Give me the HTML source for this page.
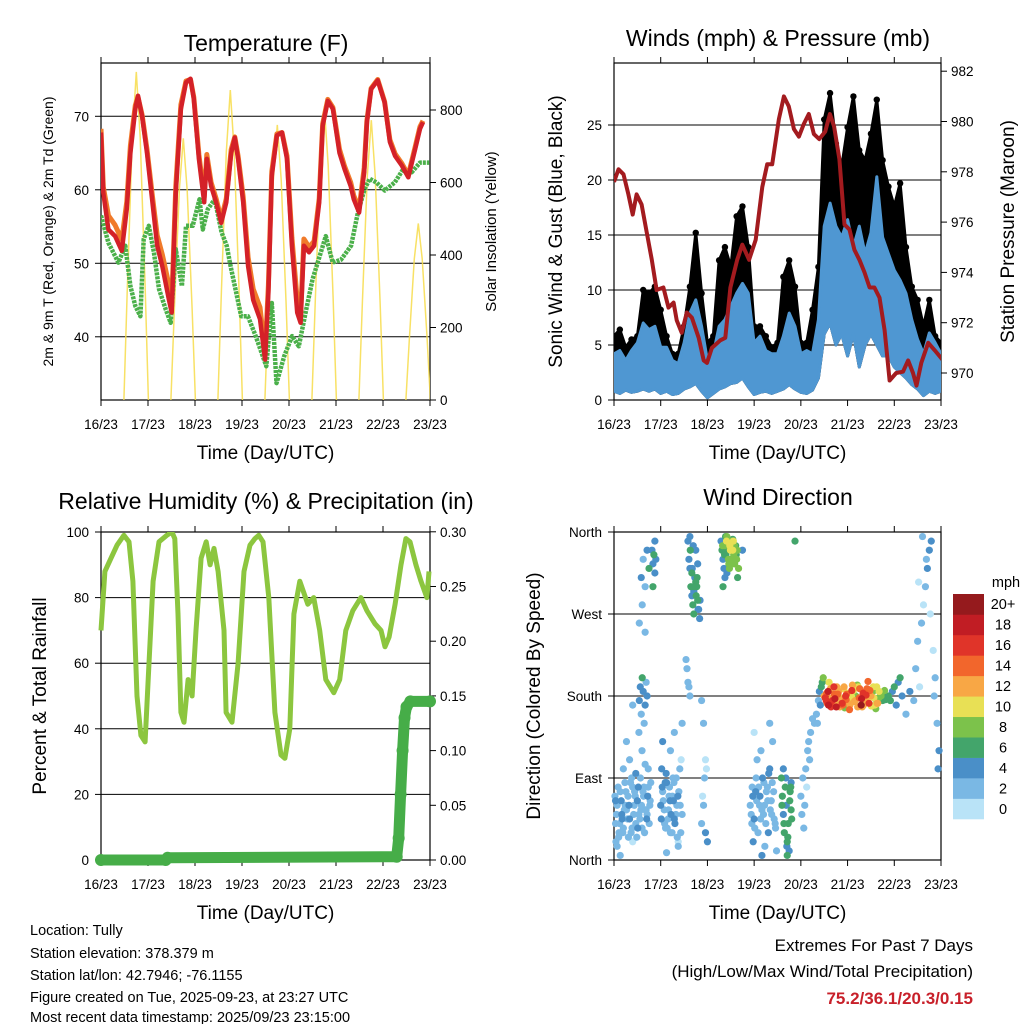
<!DOCTYPE html>
<html><head><meta charset="utf-8"><style>
html,body{margin:0;padding:0;background:#fff;}
svg{display:block;font-family:"Liberation Sans",sans-serif;}
</style></head><body>
<svg id="root" width="1024" height="1024" viewBox="0 0 1024 1024" xmlns="http://www.w3.org/2000/svg">
<rect width="1024" height="1024" fill="#fff"/>
<g id="p1"></g>
<g id="p2"></g>
<g id="p3"></g>
<g id="p4"></g>
<g font-size="14.5" fill="#000">
<text x="30" y="935">Location: Tully</text>
<text x="30" y="958">Station elevation: 378.379 m</text>
<text x="30" y="980">Station lat/lon: 42.7946; -76.1155</text>
<text x="30" y="1002">Figure created on Tue, 2025-09-23, at 23:27 UTC</text>
<text x="30" y="1024" dy="-2">Most recent data timestamp: 2025/09/23 23:15:00</text>
</g>
<g text-anchor="end">
<text x="973" y="951" font-size="17">Extremes For Past 7 Days</text>
<text x="973" y="977" font-size="17">(High/Low/Max Wind/Total Precipitation)</text>
<text x="973" y="1004" font-size="17" font-weight="bold" fill="#c8202a">75.2/36.1/20.3/0.15</text>
</g>
</svg>
<script>
// ---------------- DATA ----------------
const dayLabels=["16/23","17/23","18/23","19/23","20/23","21/23","22/23","23/23"];
const tempT=[0,1.2,3.8,7.2,10.6,13.2,15,17.5,18.9,21,23.5,26.1,28.7,31.3,34.7,36.1,38.2,40.8,43.4,45.7,47.4,50,52.7,54,56.2,58.8,61.4,64,66.5,68.3,70,72.6,75.1,77.7,81.2,83.8,85.5,87.2,89.8,92.4,95,97.5,100.2,101.9,103.6,106.2,108.8,111.4,113.2,115.8,118.4,121.8,124.4,127.5,129.1,131.8,134.4,135.8,137.9,141.3,144.8,147.5,150.2,153.6,156.9,160.4,162.9,164.4];
const tempRed=[67.8,59.6,54.6,53.7,51.7,57.4,65,71,72.8,70,65,58.7,52.4,49.6,45,43.3,59.6,71,74.6,75.1,72.4,64.2,58.3,64.2,60.5,58.3,55.5,58.3,65,67.1,64.2,58.3,49.6,45,42.4,36.9,46,61.9,67.4,67.8,64.2,52.4,43.3,41.9,52.4,51.5,52.4,58.3,68.7,72.1,71,65,62.8,60.5,58.7,56.9,62.4,69.2,73.7,74.9,71.9,66.5,64.6,63.3,61.7,65.5,68.3,69.2];
const tempOrange=[68.3,60.4,56.5,55.2,53.2,58.4,66,71.5,72.6,70.2,65.5,59.5,53.8,51.2,47,44.5,60.5,71.6,74.8,75,72.6,64.8,59,64.8,61,58.8,56,58.8,65.5,67.2,64.6,59,50.8,46.5,44,37.8,47,62.5,67.6,67.8,64.6,53.5,45,43,53.3,52.2,53,58.8,69,72.3,71.2,65.5,63.2,61,59.2,57.4,63,69.4,73.8,75,72,66.8,64.9,63.6,62,65.8,68.6,69.4];
const tdT=[0,3.8,8.9,12.4,15,17.5,20.1,21.8,24.4,27,29.6,33.1,35.6,38.2,41.3,43.4,46.8,50.3,52,54.6,58.1,61.6,64.2,66.2,71.6,75,79,84.4,87.2,89.6,93.6,97.6,101,104.5,108,114.8,118.3,122.6,127.7,131.2,134.6,137.2,140.6,144.9,150,154.3,158.7,162.9,167.6];
const tdVal=[56.5,52.8,50.1,52.4,46.9,44.2,42.8,53.3,55.1,51.5,46.5,43.7,41.9,51.9,46.9,55.1,55.1,58.7,54.6,57.4,58.7,54.2,52.4,49.6,42.8,42.8,40.1,36,44.6,33.7,37.4,40.1,38.7,43.3,47.8,53.7,50.1,50.5,52.4,56.9,60.1,61.5,61,59.9,61,62.8,62.4,63.7,63.7];
const solarDayStart=[0,24,48,72,96,120,144];
const solarPeak=[905,722,855,759,809,772,487];
const windT=[0,3,6,9,12,15,18,21,24,27,30,33,36,39,42,45,48,51,54,57,60,63,66,69,72,75,78,81,84,87,90,93,96,99,102,105,108,111,114,117,120,123,126,129,132,135,138,141,144,147,150,153,156,159,162,165,168];
const windLow=[0.8,0.6,0.9,0.7,0.8,1,0.8,1,0.6,0.8,0.5,0.6,1,1.2,1.5,0.8,0.2,0.6,1,1.2,1.5,1.6,2,1.2,0.5,0.7,0.8,0.6,0.8,1,1.4,1,0.7,0.6,0.9,2,6,7,5,6,4,6,3,5,6,5,4,4,3,2.5,2,1.4,1,0.4,0.8,0.6,0.8];
const windHigh=[4.2,4.5,3.6,4.5,5.2,7,6.4,6.7,4.8,4.8,3.6,3.3,5.2,7.9,9.1,6.7,3.6,4.2,6.7,7.3,8.5,9.7,10.6,9.7,5.2,5.8,4.5,4.2,4.2,5.8,7.9,6.7,4.2,4.5,4.2,7.3,15.8,17.9,15.8,14.8,16.4,13.9,15.8,13.3,15.2,20.3,14.8,13.3,11.8,10.9,9.7,7.3,5.5,4.2,6.1,5.2,4.2];
const gustHigh=[5.8,6.4,4.8,5.5,5.8,10,9.7,10.3,8.2,5.8,4.2,4.2,6.7,10.3,15.2,9.7,5.2,5.8,12.7,13.9,12.1,16.7,17.6,13.9,6.7,6.7,5.8,4.8,5.2,11.2,12.7,10.3,5.2,5.2,8.2,12.1,25.5,27.9,23.3,21.2,24.8,27.6,22.7,21.8,24.2,27.3,21.8,19.4,17.6,19.7,13.9,10.3,9.1,6.7,9.1,5.8,5.2];
const presT=[0,2.3,4.9,7.4,9.6,11.6,14.2,16.8,19.4,21.9,25.4,28,30.6,32.2,34.8,37.4,40,43.5,46.1,47.8,50.3,54.6,57.2,59.8,63.3,65.9,69.4,72.8,76.2,78.7,81.3,84.7,87.3,89.8,92.4,95,97.5,100.1,102.7,105.4,108.5,110.9,113.1,115.8,118.4,121,123.5,126.1,128.7,131.3,133.8,136.4,139,141.6,145,148.5,151.1,153.6,155.4,157.9,161.4,164.8,169.1];
const presVal=[977.6,978.1,977.9,977.1,976.3,977.1,976.7,975.6,974.5,973.3,973.4,972.6,972.8,972.1,971.6,972.4,972.2,971.4,970.5,970.4,971,971.3,971.4,973.4,974.5,975.1,974.5,975.3,977.4,978.3,978.3,980.1,981,980.6,979.7,979.4,979.9,980.3,979.5,979.3,979.6,980.3,979.8,978.5,975.9,975.7,974.9,974.5,974,973.4,973.4,973,971.7,969.7,970,970.05,970.5,970,969.5,970.4,971.2,970.9,970.5];
const rhT=[0,2,5.1,8.2,11.7,14.3,16.3,18.4,20.4,22.5,24.5,26.6,29.6,33.6,36.2,37.7,39.3,40.8,42.4,44.5,46.5,48.5,51.1,53.7,55.7,57.7,59.8,62.8,63.9,66.9,70,73,76.1,78.6,80.6,82.7,85.7,88.8,91.9,93.9,96.4,98.5,101.5,105.6,108.6,111.7,114.8,118.9,121.9,125,128.6,132.7,135.8,139.9,143,145,147.1,150.2,153.2,155.7,157.8,160.8,163.4,166.4,167.5];
const rhVal=[70,88,92,96,99,97,85,50,38,36,60,85,97,99,100,98,75,45,42,55,50,70,92,97,90,95,88,70,45,42,60,88,96,98,99,97,80,45,32,31,40,75,85,78,80,70,55,51,55,70,76,80,76,72,70,65,68,78,90,98,97,90,85,80,88];
const precipT=[0,33,34,151,152,153,154,155,156,158,168];
const precipVal=[0,0,0.002,0.003,0.02,0.06,0.1,0.13,0.14,0.145,0.145];
const dirTimes=[0.8,1.6,2.4,3.2,4,4.8,5.6,6.4,7.2,8,8.8,9.6,10.4,11.2,12,12.8,13.6,14.4,15.2,16,16.8,17.6,18.4,1.6,4.8,8,11.2,14.4,3.2,6.4,9.6,12.8,16,0.8,9.6,17.6,
13,13.5,14,14.5,15,15.5,16,16.5,17,14,15,16,17,18,13,14.5,16,
24,25,26,27,28,29,30,31,32,33,34,35,24.5,26.5,28.5,30.5,32.5,34.5,27,29,31,33,25,35,
19.5,20,20.5,21,21.5,20,21,
38,38.5,39,39.5,40,40.5,41,41.5,42,42.5,43,43.5,44,39,40,41,42,43,
37,37.5,38,38.5,39,45,45.5,46,46.5,47,47.5,45,46,47,48,
55,55.5,56,56.5,57,57.5,58,58.5,59,59.5,60,60.5,61,61.5,62,62.5,63,63.5,56,58,60,62,64,66,57,61,
70,71,72,73,74,75,76,77,78,79,80,81,82,83,71.5,73.5,75.5,77.5,79.5,81.5,83.5,72,76,80,
86,86.5,87,87.5,88,88.5,89,89.5,90,90.5,91,87,89,91,93,
96,96.5,97,97.5,98,98.5,99,99.5,100,100.5,101,102,103,
104,104.5,105,105.5,106,106.5,107,107.5,
108,109,110,111,112,113,114,115,116,117,118,119,120,121,122,123,124,125,126,127,128,129,130,131,132,133,134,135,136,137,138,139,140,109.5,111.5,113.5,115.5,117.5,119.5,121.5,123.5,125.5,127.5,129.5,131.5,133.5,135.5,137.5,139.5,110.5,114.5,118.5,122.5,126.5,130.5,134.5,
141,142,143,144,145,146,147,148,150,152,154,155,156,157,158,159,160,161,162,163,164,165,166,167,160.5,162.5,164.5,166.5,158.5,156.5];
const dirDegrees=[40,60,25,75,50,35,85,55,70,45,30,80,60,40,65,50,90,35,70,55,45,80,60,15,100,110,95,120,5,130,20,140,105,65,170,100,
175,190,160,200,185,150,170,195,180,310,330,300,340,320,260,280,250,
60,75,40,85,55,30,70,45,90,20,60,50,100,35,80,65,25,110,8,120,140,15,130,150,
340,325,335,315,330,300,350,
350,330,320,300,290,280,270,310,340,300,285,275,265,355,315,295,305,325,
220,210,195,190,180,40,70,60,90,30,100,175,150,110,20,
350,340,330,320,345,335,355,340,325,345,330,350,340,335,325,345,330,310,300,315,345,335,320,340,310,352,
60,80,45,90,30,70,55,85,40,65,100,50,75,35,20,110,120,15,95,130,10,140,5,150,
90,70,50,30,80,60,20,40,10,75,55,100,5,85,350,
70,50,90,35,60,100,80,120,130,110,140,155,150,
160,150,175,185,170,190,195,200,
180,175,185,170,178,190,172,182,168,176,188,180,173,165,180,186,175,192,178,170,183,176,188,172,180,185,170,190,178,183,175,186,180,172,168,177,185,170,182,176,174,190,168,181,186,178,172,184,176,195,190,167,192,169,196,166,
180,175,185,190,170,195,200,180,160,185,175,210,240,190,260,280,300,320,340,350,230,200,150,120,330,270,180,100,355,305];
const dirSpeeds=[2,2,3,2,4,2,3,2,2,4,2,3,2,2,4,3,2,2,3,2,4,2,2,3,2,2,4,2,3,2,1,2,3,4,3,2,
4,4,3,6,4,2,4,3,4,4,2,3,4,6,2,3,2,
4,2,3,4,2,3,2,4,2,1,3,2,4,3,2,4,2,1,2,2,3,2,4,2,
4,4,6,4,5,6,4,
4,5,4,6,4,7,6,4,5,6,7,4,5,4,6,4,7,5,
2,2,2,2,2,2,1,2,2,4,1,2,2,1,4,
4,6,4,4,8,6,8,6,8,10,8,8,10,8,8,6,8,6,6,4,9,7,8,4,4,6,
2,2,4,2,2,4,2,2,3,2,4,2,2,3,4,2,3,2,4,2,2,1,4,2,
6,6,4,6,6,4,6,6,4,6,7,4,6,4,6,
2,2,2,3,2,2,1,2,2,3,2,2,3,
2,2,3,4,4,6,6,8,
12,16,18,14,13,16,12,14,12,13,10,16,12,14,10,10,12,8,14,20,16,12,14,16,12,8,10,10,8,8,6,8,6,14,16,18,12,14,14,10,12,10,12,16,14,10,12,8,6,10,12,8,12,10,14,8,
6,6,4,6,4,4,6,4,2,4,2,2,2,1,2,1,2,4,4,4,1,2,2,4,2,1,2,4,2,1];
const dirTimesExtra=[0.5,1.3,2.1,2.9,3.7,4.5,5.3,6.1,6.9,7.7,8.5,9.3,10.1,10.9,11.7,12.5,13.3,14.1,14.9,15.7,16.5,17.3,18.1,18.9,1,2.6,4.2,5.8,7.4,9,10.6,12.2,13.8,15.4,17,18.6,
24.3,25.3,26.3,27.3,28.3,29.3,30.3,31.3,32.3,33.3,34.3,24.8,25.8,26.8,27.8,28.8,29.8,30.8,31.8,32.8,33.8,
70.5,71.3,72.3,73.3,74.3,75.3,76.3,77.3,78.3,79.3,80.3,81.3,82.3,70.8,72.8,74.8,76.8,78.8,80.8,82.8,
108.5,109.2,110.2,111.2,112.2,113.2,114.2,115.2,116.2,117.2,118.2,119.2,120.2,121.2,122.2,123.2,124.2,125.2,126.2,127.2,128.2,129.2,130.2,131.2,132.2,133.2,134.2,135.2,136.2,137.2,
55.8,56.8,57.8,58.8,59.8,60.8,61.8,62.8,57.3,59.3,61.3,63.3,
39.2,40.2,41.2,42.2,43.2,44.2,40.7,42.7,
86.3,87.3,88.3,89.3,90.3,91.3,88.8,90.8];
const dirDegreesExtra=[70,50,80,40,65,30,55,75,45,60,85,35,50,70,25,80,45,60,75,30,55,70,40,85,20,30,45,60,25,90,75,35,55,80,50,65,
45,65,85,35,70,50,90,40,60,75,30,80,55,95,45,65,30,85,50,70,100,
50,70,35,65,80,45,90,60,75,30,55,85,45,40,75,60,50,80,65,40,
178,183,170,188,175,182,168,185,178,172,190,176,183,170,186,174,180,168,188,177,170,185,175,182,169,190,177,172,185,180,
345,335,350,330,340,325,345,335,355,320,350,340,
340,320,300,290,275,285,345,310,
60,40,90,25,65,45,15,80];
const dirSpeedsExtra=[2,3,2,2,4,2,2,3,2,4,2,2,3,2,2,4,2,2,3,2,2,4,2,3,2,2,4,2,2,3,2,4,2,2,3,2,
4,2,4,2,3,4,2,4,2,3,2,4,2,4,2,4,2,3,2,4,2,
2,4,2,2,3,2,4,2,2,4,2,2,3,2,4,2,2,3,2,2,
16,14,18,12,16,14,18,12,10,16,12,14,10,12,16,10,8,12,14,18,12,14,10,12,10,10,8,12,10,8,
8,6,10,8,10,8,8,6,6,8,10,8,
6,4,7,6,4,5,4,6,
6,6,4,6,6,6,4,7];
const cbLabels=["0","2","4","6","8","10","12","14","16","18","20+"];
const cbColors=["#b9e3f7","#7ab8e4","#4a8fc8","#43a56b","#7cc24b","#e8e055","#f8a745","#f2662c","#e03429","#c11d24","#951a1d"];

// ---------------- HELPERS ----------------
const NS="http://www.w3.org/2000/svg";
function mk(parent,tag,attrs,txt){const e=document.createElementNS(NS,tag);for(const k in attrs)e.setAttribute(k,attrs[k]);if(txt!==undefined)e.textContent=txt;parent.appendChild(e);return e;}
function frame(g,o){
  const xs=t=>o.x0+t/168*(o.x1-o.x0);
  o.grid.forEach(y=>{const l=mk(g,'line',{x1:o.x0,x2:o.x1,y1:y,y2:y,stroke:'#000','stroke-width':1});
    });
  const fr=mk(g,'rect',{x:o.x0,y:o.y0,width:o.x1-o.x0,height:o.y1-o.y0,fill:'none',stroke:'#000','stroke-width':1.2});
  
  dayLabels.forEach((d,i)=>{const x=xs(i*24);
    mk(g,'line',{x1:x,x2:x,y1:o.y1,y2:o.y1+6,stroke:'#000'});
    mk(g,'line',{x1:x,x2:x,y1:o.y0,y2:o.y0-6,stroke:'#000'});
    const t=mk(g,'text',{x:x,y:o.y1+29,'font-size':13.5,'text-anchor':'middle'},d);
    });
  const xt=mk(g,'text',{x:(o.x0+o.x1)/2,y:o.y1+59,'font-size':19,'text-anchor':'middle'},'Time (Day/UTC)');
  
  const tt=mk(g,'text',{x:o.tx,y:o.ty,'font-size':23,'text-anchor':'middle'},o.title);
  
  o.left.forEach(([v,lab])=>{const y=o.yl(v);mk(g,'line',{x1:o.x0-6,x2:o.x0,y1:y,y2:y,stroke:'#000'});
    const t=mk(g,'text',{x:o.x0-12,y:y+5,'font-size':13.5,'text-anchor':'end'},lab);
    });
  if(o.right)o.right.forEach(([v,lab])=>{const y=o.yr(v);mk(g,'line',{x1:o.x1,x2:o.x1+6,y1:y,y2:y,stroke:'#000'});
    const t=mk(g,'text',{x:o.x1+10,y:y+5,'font-size':13.5},lab);
    });
  const ly=(o.y0+o.y1)/2;
  const lt=mk(g,'text',{x:o.ltx,y:ly,'font-size':o.lfs,'text-anchor':'middle',transform:`rotate(-90 ${o.ltx} ${ly})`},o.ltitle);
  
  if(o.rtitle){const rt=mk(g,'text',{x:o.rtx,y:ly,'font-size':o.rfs,'text-anchor':'middle',transform:`rotate(-90 ${o.rtx} ${ly})`},o.rtitle);
  }
  return xs;
}
function path(g,xs,ys,T,V){return T.map((t,i)=>(i?'L':'M')+xs(t).toFixed(1)+','+ys(V[i]).toFixed(1)).join('');}

// ---------------- PANEL 1 ----------------
(function(){
const g=document.getElementById('p1');
const yl=v=>400-(v-31.4)*7.35, yr=v=>400-v*0.3625;
const o={x0:101,x1:430,y0:63,y1:400,yl,yr,grid:[yl(40),yl(50),yl(60),yl(70)],title:'Temperature (F)',tx:266,ty:51,
 left:[[40,'40'],[50,'50'],[60,'60'],[70,'70']],right:[[0,'0'],[200,'200'],[400,'400'],[600,'600'],[800,'800']],
 ltitle:'2m & 9m T (Red, Orange) & 2m Td (Green)',ltx:53,lfs:14,rtitle:'Solar Insolation (Yellow)',rtx:496,rfs:15};
const xs=frame(g,o);
const clip=mk(g,'clipPath',{id:'c1'});mk(clip,'rect',{x:101,y:63,width:329,height:337});
const sg=mk(g,'g',{'clip-path':'url(#c1)'});
solarDayStart.forEach((d,i)=>{const P=solarPeak[i];
 const T=[d+11.7,d+13.5,d+16,d+18,d+20,d+22.5,d+24.2], V=[0,0.35*P,0.8*P,P,0.8*P,0.35*P,0];
 const p=mk(sg,'path',{d:path(sg,xs,yr,T,V),fill:'none',stroke:'#f7dc4a','stroke-width':1.5,opacity:0.85});
 });
const pg=mk(sg,'path',{d:path(sg,xs,yl,tdT,tdVal),fill:'none',stroke:'#4bb04a','stroke-width':4.5,'stroke-dasharray':'3 1','stroke-linejoin':'round'});

const po=mk(sg,'path',{d:path(sg,xs,yl,tempT,tempOrange),fill:'none',stroke:'#f07a2a','stroke-width':5,'stroke-linejoin':'round'});

const pr=mk(sg,'path',{d:path(sg,xs,yl,tempT,tempRed),fill:'none',stroke:'#d42128','stroke-width':4.5,'stroke-linejoin':'round'});

})();

// ---------------- PANEL 2 ----------------
(function(){
const g=document.getElementById('p2');
const yl=v=>400-v*11, yr=v=>373-(v-970)*25.15;
const o={x0:614,x1:941,y0:63,y1:400,yl,yr,grid:[yl(5),yl(10),yl(15),yl(20),yl(25)],title:'Winds (mph) & Pressure (mb)',tx:778,ty:46,
 left:[[0,'0'],[5,'5'],[10,'10'],[15,'15'],[20,'20'],[25,'25']],right:[[970,'970'],[972,'972'],[974,'974'],[976,'976'],[978,'978'],[980,'980'],[982,'982']],
 ltitle:'Sonic Wind & Gust (Blue, Black)',ltx:562,lfs:19,rtitle:'Station Pressure (Maroon)',rtx:1014,rfs:19};
const xs=frame(g,o);
const clip=mk(g,'clipPath',{id:'c2'});mk(clip,'rect',{x:614,y:63,width:327,height:337});
const sg=mk(g,'g',{'clip-path':'url(#c2)'});
const rev=windT.slice().reverse();
let d=path(sg,xs,yl,windT,windLow)+rev.map((t,i)=>'L'+xs(t).toFixed(1)+','+yl(gustHigh[windT.length-1-i]).toFixed(1)).join('')+'Z';
const ga=mk(sg,'path',{d,fill:'#000',stroke:'#000','stroke-width':3,'stroke-linejoin':'round'});

windT.forEach((t,i)=>{const c=mk(sg,'circle',{cx:xs(t),cy:yl(gustHigh[i]),r:3.2,fill:'#000'});
 });
d=path(sg,xs,yl,windT,windLow)+rev.map((t,i)=>'L'+xs(t).toFixed(1)+','+yl(windHigh[windT.length-1-i]).toFixed(1)).join('')+'Z';
const wa=mk(sg,'path',{d,fill:'#4f97d2',stroke:'#4f97d2','stroke-width':3,'stroke-linejoin':'round'});

const pp=mk(sg,'path',{d:path(sg,xs,yr,presT,presVal),fill:'none',stroke:'#a31b1f','stroke-width':4,'stroke-linejoin':'round'});

})();

// ---------------- PANEL 3 ----------------
(function(){
const g=document.getElementById('p3');
const yl=v=>860-v*3.28, yr=v=>860-v/0.05*54.7;
const o={x0:101,x1:430,y0:532,y1:860,yl,yr,grid:[yl(20),yl(40),yl(60),yl(80)],title:'Relative Humidity (%) & Precipitation (in)',tx:266,ty:509,
 left:[[0,'0'],[20,'20'],[40,'40'],[60,'60'],[80,'80'],[100,'100']],right:[[0,'0.00'],[0.05,'0.05'],[0.1,'0.10'],[0.15,'0.15'],[0.2,'0.20'],[0.25,'0.25'],[0.3,'0.30']],
 ltitle:'Percent & Total Rainfall',ltx:46,lfs:19};
const xs=frame(g,o);
const clip=mk(g,'clipPath',{id:'c3'});mk(clip,'rect',{x:95,y:532,width:345,height:335});
const sg=mk(g,'g',{'clip-path':'url(#c3)'});
const rh=mk(sg,'path',{d:path(sg,xs,yl,rhT,rhVal),fill:'none',stroke:'#8cc63f','stroke-width':5,'stroke-linejoin':'round'});

const pc=mk(sg,'path',{d:path(sg,xs,yr,precipT,precipVal),fill:'none',stroke:'#46ad48','stroke-width':11,'stroke-linejoin':'round'});

precipT.forEach((t,i)=>{const c=mk(sg,'circle',{cx:xs(t),cy:yr(precipVal[i]),r:6,fill:'#46ad48'});
 });
})();

// ---------------- PANEL 4 ----------------
(function(){
const g=document.getElementById('p4');
const yl=v=>860-v/360*328;
const o={x0:614,x1:941,y0:532,y1:860,yl,grid:[yl(90),yl(180),yl(270)],title:'Wind Direction',tx:778,ty:505,
 left:[[0,'North'],[90,'East'],[180,'South'],[270,'West'],[360,'North']],
 ltitle:'Direction (Colored By Speed)',ltx:540,lfs:19};
const xs=frame(g,o);
const clip=mk(g,'clipPath',{id:'c4'});mk(clip,'rect',{x:610,y:528,width:335,height:336});
const sg=mk(g,'g',{'clip-path':'url(#c4)'});
const T=dirTimes.concat(dirTimesExtra), D=dirDegrees.concat(dirDegreesExtra), S=dirSpeeds.concat(dirSpeedsExtra);
T.map((t,i)=>i).sort((a,b)=>S[a]-S[b]).forEach(i=>{
 const b=Math.min(10,Math.floor(S[i]/2));
 const c=mk(sg,'circle',{cx:xs(T[i]),cy:yl(D[i]),r:3.6,fill:cbColors[b]});
 });
const cb=mk(g,'g',{});
const h=225/11;
cbColors.forEach((col,i)=>{const y=819-(i+1)*h;
 const r=mk(cb,'rect',{x:953,y:y,width:31,height:h+0.3,fill:col});
 
 const t=mk(cb,'text',{x:1003,y:y+h/2+5,'font-size':14.5,'text-anchor':'middle'},cbLabels[i]);
 });
const u=mk(cb,'text',{x:1006,y:587,'font-size':14.5,'text-anchor':'middle'},'mph');

})();
</script>
</body></html>
